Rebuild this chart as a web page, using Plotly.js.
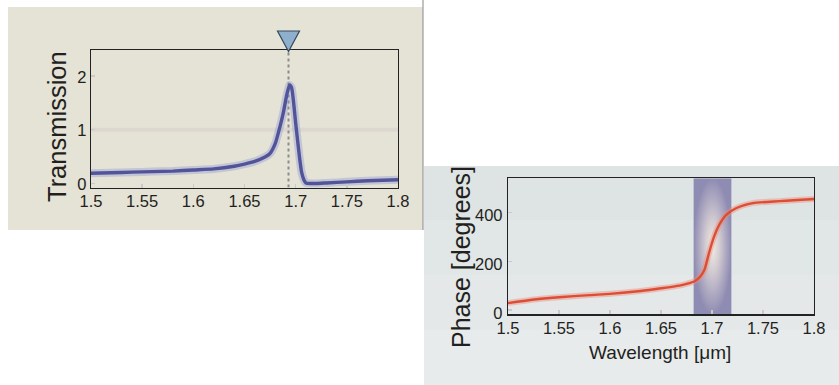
<!DOCTYPE html>
<html>
<head>
<meta charset="utf-8">
<script src="https://cdn.plot.ly/plotly-3.0.1.min.js"></script>
<style>
  html, body { margin: 0; padding: 0; background: #ffffff; }
  #chart { width: 839px; height: 385px; }
</style>
</head>
<body>
<div id="chart"></div>
<script>
// ---- Data ----
var xTickVals = [1.5, 1.55, 1.6, 1.65, 1.7, 1.75, 1.8];
var xTickText = ['1.5', '1.55', '1.6', '1.65', '1.7', '1.75', '1.8'];

// Top-left panel: transmission
var transWl = [1.5, 1.52, 1.54, 1.56, 1.58, 1.6, 1.62, 1.64, 1.65, 1.66, 1.67, 1.675, 1.68, 1.685, 1.688, 1.691, 1.694, 1.696, 1.698, 1.7, 1.702, 1.704, 1.706, 1.708, 1.71, 1.715, 1.72, 1.73, 1.75, 1.77, 1.8];
var transVal = [0.19, 0.20, 0.21, 0.22, 0.23, 0.25, 0.27, 0.32, 0.36, 0.41, 0.49, 0.56, 0.74, 1.08, 1.32, 1.62, 1.83, 1.78, 1.50, 1.12, 0.78, 0.45, 0.19, 0.07, 0.01, 0.0, 0.0, 0.01, 0.03, 0.05, 0.07];
var transTickVals = [0, 1, 2];
var transRange = [-0.075, 2.48];
var unityLevel = [1, 1];
var resonanceWl = 1.693;

// Bottom-right panel: phase
var phaseWl = [1.5, 1.52, 1.55, 1.58, 1.6, 1.63, 1.65, 1.668, 1.675, 1.683, 1.688, 1.6925, 1.697, 1.702, 1.707, 1.7137, 1.7235, 1.74, 1.766, 1.78, 1.8];
var phaseVal = [28, 40, 52, 61, 66, 78, 89, 100, 107, 118, 135, 164, 233, 301, 349, 390, 418, 439, 447, 451, 456];
var phaseTickVals = [0, 200, 400];
var phaseRange = [-18, 541];
var bandWl = [1.682, 1.719];

// ---- Fonts / colours ----
var sans = '"Liberation Sans", Arial, Helvetica, sans-serif';
var ink = '#231f20';

var W = 839, H = 385;
function px(v) { return v / W; }
function py(v) { return 1 - v / H; }

var traces = [
  // unity reference line (transmission = 1)
  { x: [xTickVals[0], xTickVals[xTickVals.length - 1]], y: unityLevel, xaxis: 'x', yaxis: 'y',
    mode: 'lines', line: { color: '#dcd8d0', width: 4 }, hoverinfo: 'skip', showlegend: false },
  // resonance dashed marker
  { x: [resonanceWl, resonanceWl], y: transRange, xaxis: 'x', yaxis: 'y',
    mode: 'lines', line: { color: '#8c8c8c', width: 2, dash: '3px,3px' }, hoverinfo: 'skip', showlegend: false },
  // transmission halo + core
  { x: transWl, y: transVal, xaxis: 'x', yaxis: 'y', mode: 'lines',
    line: { color: 'rgba(140,148,210,0.38)', width: 8, shape: 'spline', smoothing: 0.6 }, hoverinfo: 'skip', showlegend: false },
  { x: transWl, y: transVal, xaxis: 'x', yaxis: 'y', mode: 'lines',
    line: { color: '#52549a', width: 3.4, shape: 'spline', smoothing: 0.6 }, showlegend: false },
  // shaded resonance band
  { x: [bandWl[0], bandWl[1], bandWl[1], bandWl[0], bandWl[0]],
    y: [phaseRange[0], phaseRange[0], phaseRange[1], phaseRange[1], phaseRange[0]],
    xaxis: 'x2', yaxis: 'y2', mode: 'lines', line: { width: 0 }, fill: 'toself',
    fillgradient: { type: 'radial', colorscale: [[0, '#f2ece3'], [0.4, '#d0c9d0'], [1, '#8f8cb3']] },
    hoverinfo: 'skip', showlegend: false },
  // phase halo + core
  { x: phaseWl, y: phaseVal, xaxis: 'x2', yaxis: 'y2', mode: 'lines',
    line: { color: 'rgba(240,140,120,0.45)', width: 6, shape: 'spline', smoothing: 0.6 }, hoverinfo: 'skip', showlegend: false },
  { x: phaseWl, y: phaseVal, xaxis: 'x2', yaxis: 'y2', mode: 'lines',
    line: { color: '#dc4d36', width: 2.4, shape: 'spline', smoothing: 0.6 }, showlegend: false }
];

var axisCommon = {
  showline: true, mirror: true, linecolor: '#222', linewidth: 1.2,
  ticks: 'inside', ticklen: 4, tickcolor: '#c9c9c9', tickwidth: 1.5,
  showgrid: false, zeroline: false, fixedrange: true,
  tickfont: { family: sans, size: 16.5, color: ink }
};
function ax(extra) { return Object.assign({}, axisCommon, extra); }

var shapes = [
  // left panel background
  { type: 'rect', xref: 'paper', yref: 'paper', x0: px(8), x1: px(423), y0: py(230), y1: py(7),
    fillcolor: '#e5e2d6', line: { width: 0 }, layer: 'below' },
  { type: 'line', xref: 'paper', yref: 'paper', x0: px(423), x1: px(423), y0: py(230), y1: py(0),
    line: { color: '#9a9a9a', width: 1.2 }, layer: 'below' },
  // right panel background (soft vertical gradient)
  { type: 'rect', xref: 'paper', yref: 'paper', x0: px(424), x1: 1, y0: py(220), y1: py(166),
    fillcolor: '#dee3e3', line: { width: 0 }, layer: 'below' },
  { type: 'rect', xref: 'paper', yref: 'paper', x0: px(424), x1: 1, y0: py(275), y1: py(220),
    fillcolor: '#e1e6e6', line: { width: 0 }, layer: 'below' },
  { type: 'rect', xref: 'paper', yref: 'paper', x0: px(424), x1: 1, y0: py(330), y1: py(275),
    fillcolor: '#e4e8e9', line: { width: 0 }, layer: 'below' },
  { type: 'rect', xref: 'paper', yref: 'paper', x0: px(424), x1: 1, y0: 0, y1: py(330),
    fillcolor: '#e7ebec', line: { width: 0 }, layer: 'below' },
  // resonance triangle marker above the top plot
  { type: 'path', xref: 'x', yref: 'paper', xsizemode: 'pixel', ysizemode: 'pixel',
    xanchor: resonanceWl, yanchor: py(50),
    path: 'M-11,19 L11,19 L0,-1.5 Z',
    fillcolor: '#8fb0cc', line: { color: '#34495e', width: 1.2 }, layer: 'above' }
];

var annotations = [
  { text: 'Transmission', xref: 'paper', yref: 'paper', x: px(57), y: py(127), textangle: -90,
    showarrow: false, xanchor: 'center', yanchor: 'middle', font: { family: sans, size: 25.5, color: ink } },
  { text: 'Phase [degrees]', xref: 'paper', yref: 'paper', x: px(461), y: py(257), textangle: -90,
    showarrow: false, xanchor: 'center', yanchor: 'middle', font: { family: sans, size: 25, color: ink } },
  { text: 'Wavelength [\u03bcm]', xref: 'paper', yref: 'paper', x: px(660), y: py(352),
    showarrow: false, xanchor: 'center', yanchor: 'middle', font: { family: sans, size: 19, color: ink } }
];

var layout = {
  width: W, height: H,
  margin: { l: 0, r: 0, t: 0, b: 0 },
  paper_bgcolor: '#ffffff', plot_bgcolor: '#ffffff',
  showlegend: false,
  xaxis: ax({ domain: [px(91), px(398)], range: [1.5, 1.8], tickvals: xTickVals, ticktext: xTickText, anchor: 'y', ticklabelstandoff: -2 }),
  yaxis: ax({ domain: [py(187.5), py(50)], range: transRange, tickvals: transTickVals, anchor: 'x', ticklabelshift: 1 }),
  xaxis2: ax({ domain: [px(508), px(814)], range: [1.5, 1.8], tickvals: xTickVals, ticktext: xTickText, anchor: 'y2', ticklabelstandoff: -1 }),
  yaxis2: ax({ domain: [py(314.3), py(178.3)], range: phaseRange, tickvals: phaseTickVals, anchor: 'x2', ticklabelshift: 3, ticklabelstandoff: 1 }),
  shapes: shapes,
  annotations: annotations
};

Plotly.newPlot('chart', traces, layout, { displayModeBar: false, staticPlot: true });
</script>
</body>
</html>
